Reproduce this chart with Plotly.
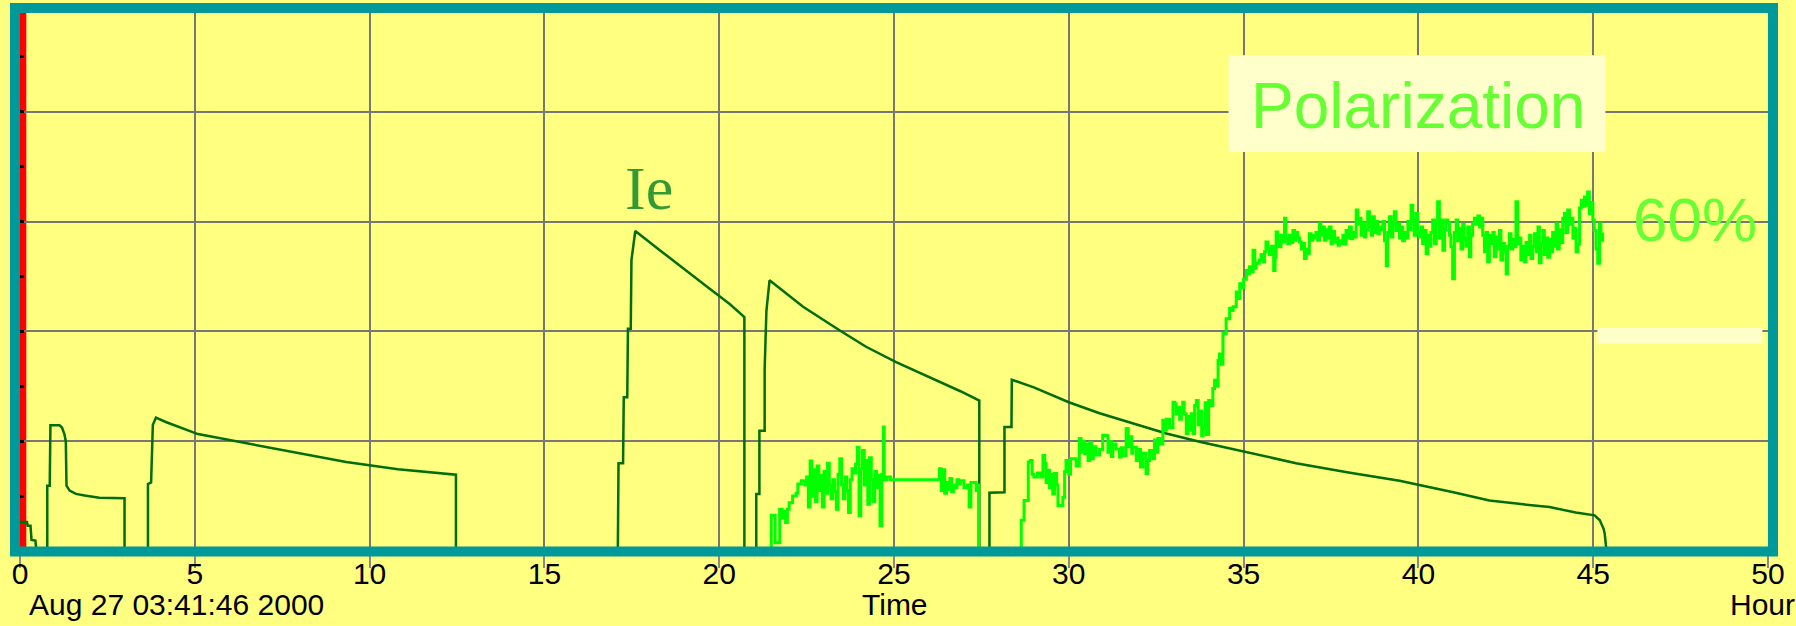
import plotly.graph_objects as go

# ---- electron current Ie (arbitrary units on the same 0-98 scale) ----
ie_hours = [
    0.0, 0.20, 0.22, 0.30, 0.33, 0.44, 0.47,
    0.78, 0.78, 0.85, 0.87, 1.13, 1.20, 1.27, 1.31, 1.33, 1.42, 1.60, 1.85, 2.27, 2.99, 2.99,
    3.66, 3.66, 3.75, 3.80, 3.89, 4.17, 5.09, 6.09, 7.52, 9.33, 10.81, 12.00, 12.47, 12.47,
    17.10, 17.12, 17.25, 17.27, 17.37, 17.39, 17.47, 17.49, 17.60, 18.30, 19.00, 19.70, 20.30, 20.72, 20.72,
    21.06, 21.06, 21.15, 21.15, 21.30, 21.30, 21.35, 21.44, 22.40, 23.44, 24.20, 25.06, 25.70, 26.30, 26.90, 27.44, 27.44,
    27.73, 27.73, 28.16, 28.16, 28.36, 28.37, 29.00, 30.00, 30.88, 31.83, 32.79, 33.74, 35.07, 36.50, 38.00,
    39.46, 41.00, 42.03, 43.00, 43.75, 44.50, 45.04, 45.19, 45.30, 45.33, 45.37, 45.38,
]
ie_values = [
    5.3, 5.3, 4.6, 4.6, 2.0, 1.9, 0.0,
    0.0, 11.9, 11.9, 22.9, 22.9, 22.5, 21.3, 20.0, 11.9, 11.0, 10.4, 10.1, 9.7, 9.6, 0.0,
    0.0, 12.2, 12.5, 23.0, 24.3, 23.5, 21.3, 20.1, 18.3, 16.2, 14.9, 14.1, 13.9, 0.0,
    0.0, 16.0, 16.0, 28.0, 28.0, 40.5, 40.5, 53.0, 58.3, 54.8, 51.3, 47.9, 45.0, 42.6, 0.0,
    0.0, 10.4, 10.4, 21.9, 21.9, 33.2, 43.7, 49.3, 44.5, 40.2, 37.2, 34.4, 32.6, 30.8, 29.1, 27.4, 0.0,
    0.0, 10.6, 10.7, 22.6, 22.6, 31.2, 29.8, 27.1, 25.1, 23.2, 21.4, 19.9, 18.0, 16.0, 14.3,
    12.8, 10.7, 9.2, 8.5, 8.0, 7.0, 6.5, 5.6, 4.0, 3.1, 0.7, 0.0,
]

# ---- polarization (%) ----
pol_hours = [
    21.45, 21.49, 21.58, 21.60, 21.72, 21.73, 21.80, 21.85, 21.90, 21.95, 22.00, 22.08, 22.10, 22.20,
    22.25, 22.35, 22.45, 22.50, 22.55, 22.60, 22.65, 22.70, 22.75, 22.80, 22.85, 22.90, 22.95, 23.00,
    23.05, 23.10, 23.15, 23.20, 23.25, 23.30, 23.35, 23.40, 23.45, 23.50, 23.55, 23.60, 23.65, 23.70,
    23.75, 23.80, 23.85, 23.90, 23.95, 24.00, 24.05, 24.10, 24.15, 24.20, 24.25, 24.30, 24.35, 24.40,
    24.45, 24.50, 24.55, 24.60, 24.65, 24.70, 24.72, 24.80, 24.90, 26.26, 26.30, 26.35, 26.40, 26.45,
    26.50, 26.55, 26.60, 26.65, 26.70, 26.75, 26.80, 26.85, 26.90, 27.00, 27.10, 27.15, 27.20, 27.30,
    27.35, 27.40, 27.42,
    28.62, 28.64, 28.70, 28.72, 28.80, 28.84, 28.90, 28.95, 29.00, 29.10, 29.20, 29.26, 29.31, 29.35,
    29.40, 29.45, 29.50, 29.54, 29.59, 29.65, 29.69, 29.78, 29.83, 29.88, 29.92, 30.00, 30.05, 30.15,
    30.21, 30.30, 30.35, 30.40, 30.45, 30.50, 30.55, 30.60, 30.65, 30.70, 30.78, 30.88, 30.97, 31.07,
    31.12, 31.16, 31.22, 31.26, 31.35, 31.45, 31.50, 31.55, 31.64, 31.70, 31.74, 31.80, 31.83, 31.93,
    32.00, 32.05, 32.12, 32.21, 32.26, 32.31, 32.40, 32.45, 32.50, 32.55, 32.60, 32.69, 32.75, 32.79,
    32.88, 32.98, 33.03, 33.07, 33.12, 33.17, 33.22, 33.26, 33.30, 33.36, 33.41, 33.45, 33.50, 33.55,
    33.60, 33.65, 33.70, 33.74, 33.80, 33.84, 33.90, 33.93, 34.00, 34.05, 34.12, 34.17, 34.22, 34.27,
    34.31, 34.36, 34.41, 34.50, 34.60, 34.66, 34.70, 34.79, 34.85, 34.89, 34.95, 35.00, 35.08, 35.12,
    35.17, 35.22, 35.27, 35.32, 35.36,
    35.45, 35.50, 35.55, 35.60, 35.64, 35.70, 35.74, 35.80, 35.86, 35.90, 35.93, 35.98, 36.02, 36.07,
    36.12, 36.17, 36.21, 36.26, 36.31, 36.36, 36.41, 36.46, 36.50, 36.55, 36.60, 36.65, 36.69, 36.74,
    36.79, 36.83, 36.88, 36.93, 36.98, 37.03, 37.07, 37.12, 37.17, 37.21, 37.26, 37.31, 37.36, 37.40,
    37.45, 37.50, 37.55, 37.60, 37.65, 37.70, 37.74, 37.79, 37.84, 37.88, 37.93, 37.98, 38.03, 38.08,
    38.12, 38.17, 38.22, 38.27, 38.31, 38.36, 38.41, 38.46, 38.50, 38.55, 38.60, 38.65, 38.69, 38.74,
    38.79, 38.84, 38.88, 38.93, 38.98, 39.03, 39.08, 39.12, 39.17, 39.22, 39.27, 39.31, 39.36, 39.41,
    39.46, 39.50, 39.55, 39.60, 39.65, 39.70, 39.74, 39.79, 39.84, 39.88, 39.93, 39.98, 40.03, 40.08,
    40.12, 40.17, 40.22, 40.27, 40.31, 40.36, 40.41, 40.46, 40.51, 40.55, 40.60, 40.65, 40.70, 40.75,
    40.79, 40.84, 40.89, 40.93, 40.98, 41.03, 41.08, 41.12, 41.17, 41.22, 41.27, 41.31, 41.36, 41.41,
    41.46, 41.50, 41.55, 41.60, 41.65, 41.70, 41.75, 41.79, 41.84, 41.89, 41.94, 41.98, 42.03, 42.08,
    42.13, 42.17, 42.22, 42.27, 42.32, 42.36, 42.41, 42.46, 42.51, 42.55, 42.60, 42.65, 42.70, 42.75,
    42.79, 42.84, 42.89, 42.93, 42.98, 43.03, 43.08, 43.13, 43.18, 43.22, 43.27, 43.32, 43.37, 43.42,
    43.46, 43.51, 43.56, 43.60, 43.65, 43.70, 43.75, 43.80, 43.84, 43.89, 43.94, 43.98, 44.03, 44.08,
    44.13, 44.18, 44.22, 44.27, 44.32, 44.37, 44.42, 44.46, 44.51, 44.56, 44.61, 44.66, 44.70, 44.75,
    44.80, 44.84, 44.89, 44.94, 44.99, 45.03, 45.08, 45.13, 45.18, 45.22, 45.27,
]
pol_values = [
    0.0, 6.5, 6.5, 1.5, 1.5, 7.6, 6.0, 7.2, 5.2, 7.6, 8.8, 8.8, 10.0, 10.5,
    12.2, 12.8, 12.0, 13.5, 8.0, 16.4, 10.0, 14.8, 9.0, 15.5, 11.0, 13.8, 8.0, 14.5,
    10.5, 16.0, 12.0, 9.5, 13.0, 10.8, 7.6, 14.0, 16.8, 12.0, 9.5, 13.5, 11.0, 7.0,
    13.0, 15.0, 14.2, 15.8, 18.9, 6.4, 15.0, 18.3, 12.0, 16.5, 8.5, 17.0, 13.0, 9.0,
    14.5, 11.5, 13.8, 4.6, 14.0, 22.6, 13.0, 13.5, 13.0, 13.0, 15.0, 11.0, 14.8, 10.5,
    12.5, 11.2, 13.2, 10.8, 12.0, 11.5, 13.0, 12.2, 12.8, 11.5, 12.0, 8.0, 12.5, 12.5,
    11.0, 12.0, 0.0,
    0.0, 5.6, 5.6, 9.2, 9.2, 16.2, 16.5, 14.0, 13.5, 14.2, 13.5, 17.4, 16.0, 12.5,
    14.7, 11.5, 14.0, 10.4, 14.1, 12.0, 8.3, 8.3, 9.8, 14.5, 16.5, 14.0, 16.8, 16.8,
    15.5, 20.5, 18.0, 20.0, 17.7, 19.5, 16.5, 19.8, 16.8, 19.0, 17.5, 18.5, 21.1, 21.0,
    18.0, 19.9, 17.2, 19.5, 18.6, 17.1, 18.8, 17.4, 22.3, 19.0, 20.8, 17.8, 18.9, 16.5,
    18.5, 15.3, 17.8, 14.1, 16.5, 18.3, 16.8, 20.2, 18.0, 20.5, 19.5, 23.8, 22.0, 24.0,
    22.5, 27.1, 26.8, 25.0, 26.2, 24.0, 25.5, 27.1, 25.0, 21.4, 24.5, 22.0, 25.0, 21.4,
    26.5, 27.4, 23.0, 25.5, 21.0, 22.6, 27.0, 21.2, 27.4, 26.5, 29.6, 31.1, 30.0, 34.7,
    35.9, 34.0, 39.6, 42.3, 44.2, 43.8, 44.5, 47.2, 46.0, 48.7, 48.0, 49.5, 51.1, 50.5,
    51.8, 50.8, 54.8, 51.5, 52.4,
    53.0, 54.0, 52.7, 54.5, 56.3, 55.0, 54.0, 55.5, 51.1, 53.5, 58.1, 56.0, 55.4, 57.5,
    56.3, 60.6, 56.9, 56.0, 57.5, 56.2, 58.4, 56.6, 58.0, 57.0, 56.3, 55.0, 56.0, 53.3,
    55.0, 54.2, 57.8, 56.6, 57.5, 57.0, 58.0, 56.6, 59.6, 57.5, 59.0, 56.6, 58.5, 57.0,
    59.0, 56.0, 58.2, 56.3, 57.0, 55.7, 56.5, 56.0, 57.5, 55.9, 58.4, 57.0, 59.0, 56.9,
    58.0, 57.2, 62.1, 59.5, 60.6, 57.5, 59.8, 57.2, 58.5, 61.8, 59.0, 57.5, 60.9, 58.0,
    60.0, 57.8, 59.0, 58.5, 60.0, 56.5, 52.0, 58.0, 60.9, 57.2, 59.5, 61.8, 58.4, 59.6,
    57.0, 59.0, 56.5, 58.0, 57.0, 60.0, 58.5, 63.0, 60.5, 57.5, 61.5, 58.0, 57.2, 59.0,
    56.0, 58.4, 54.2, 57.5, 55.5, 58.0, 60.3, 56.0, 59.5, 63.6, 57.0, 60.3, 54.8, 58.5,
    60.3, 59.8, 57.5, 55.4, 49.6, 58.0, 60.3, 56.5, 58.8, 55.0, 59.5, 57.0, 55.5, 59.0,
    53.6, 57.5, 59.6, 60.6, 59.5, 61.0, 59.0, 60.6, 57.5, 54.5, 58.0, 52.7, 57.5, 56.0,
    58.0, 53.6, 57.2, 55.0, 58.4, 53.0, 56.0, 54.5, 50.5, 55.5, 57.8, 55.0, 56.8, 55.4,
    63.6, 56.0, 57.0, 53.0, 55.5, 52.7, 56.2, 54.0, 57.5, 53.3, 55.5, 57.8, 54.5, 59.0,
    52.5, 56.0, 58.4, 54.0, 57.0, 53.5, 56.8, 54.5, 58.0, 55.5, 59.6, 55.0, 58.5, 56.2,
    60.6, 61.5, 58.0, 62.1, 59.5, 60.6, 57.0, 58.8, 54.5, 55.9, 62.5, 63.9, 62.8, 64.5,
    63.0, 65.4, 61.5, 63.5, 60.3, 58.4, 55.0, 52.4, 59.6, 56.6, 58.0,
]

hour_ticks = [0, 5, 10, 15, 20, 25, 30, 35, 40, 45, 50]
hour_tick_text = [str(h) for h in hour_ticks]

BG = "#FFFF80"
TEAL = "#009999"
LABEL_FONT = "Liberation Sans, Arial, sans-serif"

fig = go.Figure()

fig.add_trace(go.Scatter(
    x=ie_hours, y=ie_values, mode="lines", line=dict(color="#006E00", width=2.5),
    showlegend=False, hoverinfo="skip",
))
fig.add_trace(go.Scatter(
    x=pol_hours, y=pol_values, mode="lines", line=dict(color="#00FF00", width=3, shape="hv"),
    showlegend=False, hoverinfo="skip",
))

shapes = [
    # red marker band at t = 0
    dict(type="rect", xref="x", yref="paper", x0=0, x1=0.18, y0=0, y1=1,
         fillcolor="#FF0000", line=dict(width=0), layer="between"),
    # legend panel behind the "Polarization" caption
    dict(type="rect", xref="x", yref="y", x0=34.57, x1=45.35, y0=72.7, y1=90.3,
         fillcolor="#FFFFCC", line=dict(width=0), layer="above"),
    # small pale strip under the 60% mark
    dict(type="rect", xref="x", yref="y", x0=45.12, x1=49.84, y0=37.8, y1=40.6,
         fillcolor="#FFFFCC", line=dict(width=0), layer="above"),
    # teal frame round the plotting area
    dict(type="rect", xref="paper", yref="paper", x0=-0.00286, x1=1.00286, y0=-0.0009, y1=1.0093,
         line=dict(color=TEAL, width=10), fillcolor="rgba(0,0,0,0)", layer="above"),
]

annotations = [
    dict(text="Polarization", x=39.98, y=81.0, xref="x", yref="y", showarrow=False,
         font=dict(family=LABEL_FONT, size=64, color="#66FF33"), xanchor="center", yanchor="middle"),
    dict(text="60%", x=47.9, y=60.3, xref="x", yref="y", showarrow=False,
         font=dict(family=LABEL_FONT, size=62, color="#66FF33"), xanchor="center", yanchor="middle"),
    dict(text="Ie", x=18.0, y=66.2, xref="x", yref="y", showarrow=False,
         font=dict(family="Liberation Serif, Times New Roman, serif", size=62, color="#339933"),
         xanchor="center", yanchor="middle"),
    dict(text="Time", x=0.5006, y=-0.10, xref="paper", yref="paper", showarrow=False,
         font=dict(family=LABEL_FONT, size=30, color="#000000"), xanchor="center", yanchor="middle"),
    dict(text="Aug 27 03:41:46 2000", x=0.004, y=-0.10, xref="paper", yref="paper", showarrow=False,
         font=dict(family=LABEL_FONT, size=30, color="#000000"), xanchor="left", yanchor="middle"),
    dict(text="Hour", x=0.9771, y=-0.10, xref="paper", yref="paper", showarrow=False,
         font=dict(family=LABEL_FONT, size=30, color="#000000"), xanchor="left", yanchor="middle"),
]

fig.update_layout(
    width=1796, height=626,
    margin=dict(l=20, r=28, t=13, b=75, pad=0),
    paper_bgcolor=BG, plot_bgcolor=BG,
    shapes=shapes, annotations=annotations,
    xaxis=dict(
        range=[0, 50], tickmode="array", tickvals=hour_ticks, ticktext=hour_tick_text,
        showgrid=True, gridcolor="#777777", gridwidth=2, zeroline=False, showline=False,
        ticks="outside", ticklen=16, tickwidth=2, tickcolor="#8a8a8a",
        ticklabelstandoff=-20,
        tickfont=dict(family=LABEL_FONT, size=30, color="#000000"),
    ),
    yaxis=dict(
        range=[0, 98.0], tickmode="linear", tick0=0, dtick=20,
        showgrid=True, gridcolor="#777777", gridwidth=2, zeroline=False, showline=False,
        ticks="inside", ticklen=4, tickwidth=3, tickcolor="#000000", showticklabels=False,
        minor=dict(dtick=10, ticks="inside", ticklen=4, tickwidth=3, tickcolor="#000000", showgrid=False),
    ),
)

fig.write_html("out.html")
